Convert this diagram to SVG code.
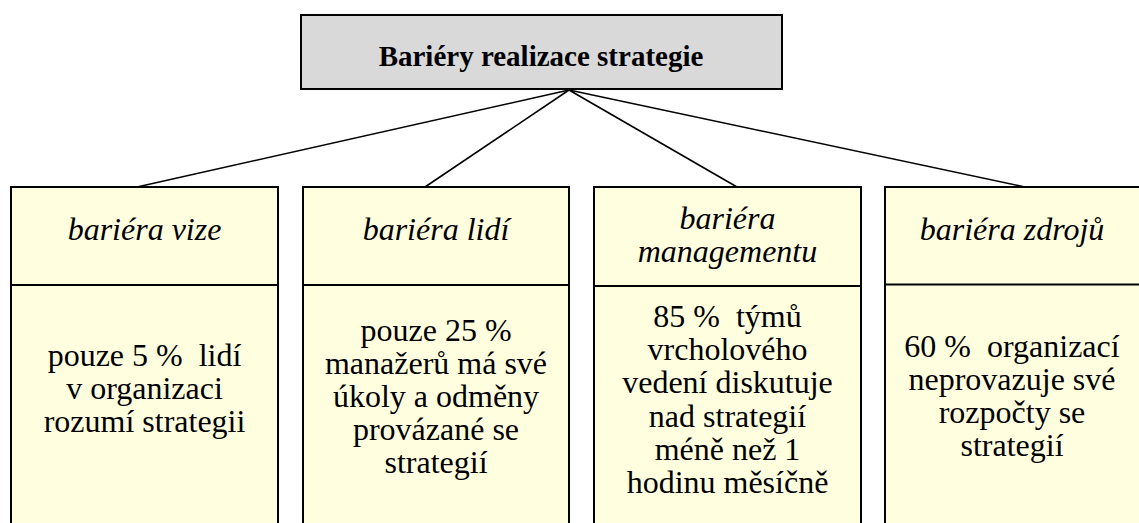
<svg xmlns="http://www.w3.org/2000/svg" width="1139" height="523" viewBox="0 0 1139 523">
<style>
.box{fill:#ffffe0;stroke:#000;stroke-width:2}
.div{stroke:#000;stroke-width:2}
.top{fill:#d9d9d9;stroke:#000;stroke-width:2}
.t{font-family:'Liberation Serif','Times New Roman',serif;fill:#000;text-anchor:middle}
.title{font-size:29px;font-weight:bold}
.h{font-size:32px;font-style:italic}
.b{font-size:32px}
.con{stroke:#000;stroke-width:1.6;fill:none}
</style>
<rect width="1139" height="523" fill="#fff"/>
<g id="connectors">
<line class="con" x1="569" y1="90" x2="137" y2="187"/>
<line class="con" x1="569" y1="90" x2="425" y2="187"/>
<line class="con" x1="569" y1="90" x2="737" y2="187"/>
<line class="con" x1="569" y1="90" x2="1025" y2="187"/>
</g>
<g id="root">
<rect class="top" x="301" y="15" width="481" height="74"/>
<text class="t title" x="541" y="66">Bariéry realizace strategie</text>
</g>
<g id="col1">
<rect class="box" x="11" y="187" width="267" height="350"/>
<line class="div" x1="11" y1="285" x2="278" y2="285"/>
<text class="t h" x="144.5" y="240">bariéra vize</text>
<text class="t b" x="144.5" y="366" xml:space="preserve">pouze 5 %  lidí</text>
<text class="t b" x="144.5" y="399">v organizaci</text>
<text class="t b" x="144.5" y="432">rozumí strategii</text>
</g>
<g id="col2">
<rect class="box" x="303" y="187" width="266" height="350"/>
<line class="div" x1="303" y1="285" x2="569" y2="285"/>
<text class="t h" x="436" y="240">bariéra lidí</text>
<text class="t b" x="436" y="341">pouze 25 %</text>
<text class="t b" x="436" y="374">manažerů má své</text>
<text class="t b" x="436" y="407">úkoly a odměny</text>
<text class="t b" x="436" y="440">provázané se</text>
<text class="t b" x="436" y="473">strategií</text>
</g>
<g id="col3">
<rect class="box" x="594" y="187" width="267" height="350"/>
<line class="div" x1="594" y1="286" x2="861" y2="286"/>
<text class="t h" x="727.5" y="229">bariéra</text>
<text class="t h" x="727.5" y="262">managementu</text>
<text class="t b" x="727.5" y="327" xml:space="preserve">85 %  týmů</text>
<text class="t b" x="727.5" y="360">vrcholového</text>
<text class="t b" x="727.5" y="393">vedení diskutuje</text>
<text class="t b" x="727.5" y="427">nad strategií</text>
<text class="t b" x="727.5" y="460">méně než 1</text>
<text class="t b" x="727.5" y="493">hodinu měsíčně</text>
</g>
<g id="col4">
<rect class="box" x="885" y="187" width="267" height="350"/>
<line class="div" x1="885" y1="284.5" x2="1152" y2="284.5" stroke-width="3"/>
<text class="t h" x="1012" y="240">bariéra zdrojů</text>
<text class="t b" x="1012" y="357" xml:space="preserve">60 %  organizací</text>
<text class="t b" x="1012" y="390">neprovazuje své</text>
<text class="t b" x="1012" y="423">rozpočty se</text>
<text class="t b" x="1012" y="456">strategií</text>
</g>
</svg>
